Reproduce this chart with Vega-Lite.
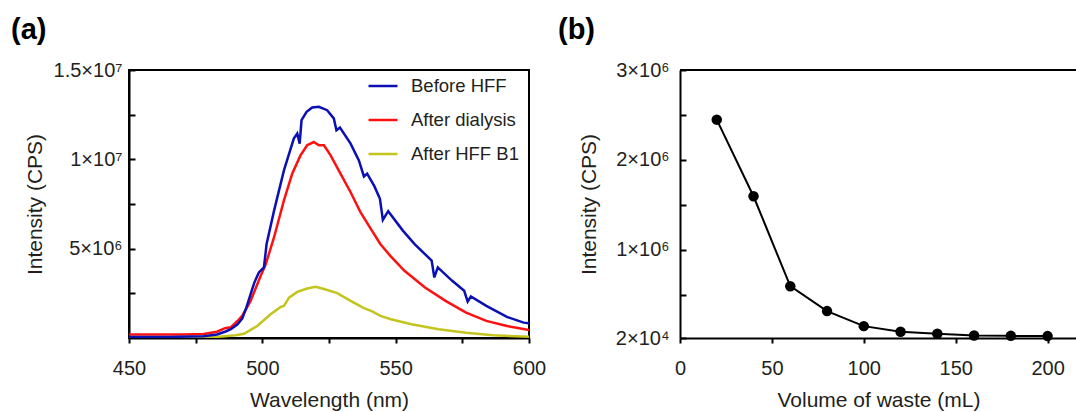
{
  "$schema": "https://vega.github.io/schema/vega-lite/v6.json",
  "background": "white",
  "padding": {"left": 10, "top": 15, "right": 0, "bottom": 0},
  "autosize": {"type": "pad"},
  "bounds": "flush",
  "spacing": 151,
  "config": {
    "font": "Liberation Sans",
    "axis": {
      "labelFont": "Liberation Sans",
      "titleFont": "Liberation Sans",
      "labelColor": "#231f20",
      "titleColor": "#231f20",
      "titleFontWeight": "normal",
      "labelFontSize": 20,
      "titleFontSize": 21,
      "domainColor": "black",
      "domainWidth": 2,
      "tickColor": "black",
      "tickWidth": 2,
      "grid": false,
      "labelFlush": false,
      "labelOverlap": false
    },
    "title": {
      "font": "Liberation Sans",
      "fontSize": 29,
      "fontWeight": "bold",
      "color": "black",
      "anchor": "start",
      "frame": "group",
      "baseline": "alphabetic",
      "offset": 15
    }
  },
  "hconcat": [
    {
      "width": 400,
      "height": 268,
      "title": {"text": "(a)", "dx": -118},
      "view": {"stroke": "black", "strokeWidth": 2},
      "data": {
        "values": [
          {"s": "After HFF B1", "w": 450, "i": 10000},
          {"s": "After HFF B1", "w": 470, "i": 10000},
          {"s": "After HFF B1", "w": 476, "i": 20000},
          {"s": "After HFF B1", "w": 482, "i": 50000},
          {"s": "After HFF B1", "w": 486, "i": 100000},
          {"s": "After HFF B1", "w": 490, "i": 150000},
          {"s": "After HFF B1", "w": 493.1, "i": 240000},
          {"s": "After HFF B1", "w": 498.1, "i": 670000},
          {"s": "After HFF B1", "w": 503.1, "i": 1330000},
          {"s": "After HFF B1", "w": 506.9, "i": 1740000},
          {"s": "After HFF B1", "w": 508.1, "i": 1800000},
          {"s": "After HFF B1", "w": 510, "i": 2260000},
          {"s": "After HFF B1", "w": 513.1, "i": 2580000},
          {"s": "After HFF B1", "w": 516.8, "i": 2770000},
          {"s": "After HFF B1", "w": 520, "i": 2870000},
          {"s": "After HFF B1", "w": 523.1, "i": 2740000},
          {"s": "After HFF B1", "w": 528.1, "i": 2510000},
          {"s": "After HFF B1", "w": 533.1, "i": 2080000},
          {"s": "After HFF B1", "w": 538.1, "i": 1670000},
          {"s": "After HFF B1", "w": 541, "i": 1500000},
          {"s": "After HFF B1", "w": 544.3, "i": 1240000},
          {"s": "After HFF B1", "w": 548.2, "i": 1050000},
          {"s": "After HFF B1", "w": 555.9, "i": 770000},
          {"s": "After HFF B1", "w": 566.1, "i": 490000},
          {"s": "After HFF B1", "w": 576.4, "i": 300000},
          {"s": "After HFF B1", "w": 586.6, "i": 150000},
          {"s": "After HFF B1", "w": 600, "i": 70000},
          {"s": "After dialysis", "w": 450, "i": 200000},
          {"s": "After dialysis", "w": 470, "i": 200000},
          {"s": "After dialysis", "w": 478, "i": 230000},
          {"s": "After dialysis", "w": 483, "i": 350000},
          {"s": "After dialysis", "w": 486, "i": 550000},
          {"s": "After dialysis", "w": 488.2, "i": 600000},
          {"s": "After dialysis", "w": 490.7, "i": 950000},
          {"s": "After dialysis", "w": 492.5, "i": 1250000},
          {"s": "After dialysis", "w": 495.6, "i": 2080000},
          {"s": "After dialysis", "w": 499.4, "i": 3480000},
          {"s": "After dialysis", "w": 501.3, "i": 4140000},
          {"s": "After dialysis", "w": 504.4, "i": 5640000},
          {"s": "After dialysis", "w": 508.1, "i": 7700000},
          {"s": "After dialysis", "w": 511.2, "i": 9200000},
          {"s": "After dialysis", "w": 514.3, "i": 10220000},
          {"s": "After dialysis", "w": 516.8, "i": 10790000},
          {"s": "After dialysis", "w": 519.3, "i": 10970000},
          {"s": "After dialysis", "w": 521.2, "i": 10790000},
          {"s": "After dialysis", "w": 523.1, "i": 10790000},
          {"s": "After dialysis", "w": 525.6, "i": 10220000},
          {"s": "After dialysis", "w": 529.3, "i": 9200000},
          {"s": "After dialysis", "w": 533.1, "i": 8160000},
          {"s": "After dialysis", "w": 536.8, "i": 7040000},
          {"s": "After dialysis", "w": 540.5, "i": 6150000},
          {"s": "After dialysis", "w": 544.3, "i": 5250000},
          {"s": "After dialysis", "w": 548, "i": 4600000},
          {"s": "After dialysis", "w": 553.3, "i": 3760000},
          {"s": "After dialysis", "w": 561, "i": 2830000},
          {"s": "After dialysis", "w": 568.7, "i": 2080000},
          {"s": "After dialysis", "w": 576.4, "i": 1420000},
          {"s": "After dialysis", "w": 584, "i": 960000},
          {"s": "After dialysis", "w": 591.7, "i": 670000},
          {"s": "After dialysis", "w": 600, "i": 450000},
          {"s": "Before HFF", "w": 450, "i": 60000},
          {"s": "Before HFF", "w": 465, "i": 60000},
          {"s": "Before HFF", "w": 478, "i": 100000},
          {"s": "Before HFF", "w": 483, "i": 200000},
          {"s": "Before HFF", "w": 486, "i": 350000},
          {"s": "Before HFF", "w": 488.2, "i": 490000},
          {"s": "Before HFF", "w": 490.7, "i": 770000},
          {"s": "Before HFF", "w": 492.5, "i": 1100000},
          {"s": "Before HFF", "w": 494, "i": 1700000},
          {"s": "Before HFF", "w": 495.6, "i": 2450000},
          {"s": "Before HFF", "w": 497, "i": 3100000},
          {"s": "Before HFF", "w": 498.7, "i": 3670000},
          {"s": "Before HFF", "w": 500.6, "i": 3950000},
          {"s": "Before HFF", "w": 501.6, "i": 5260000},
          {"s": "Before HFF", "w": 504.4, "i": 7130000},
          {"s": "Before HFF", "w": 508.1, "i": 9380000},
          {"s": "Before HFF", "w": 511.8, "i": 11160000},
          {"s": "Before HFF", "w": 513.1, "i": 11440000},
          {"s": "Before HFF", "w": 514, "i": 10880000},
          {"s": "Before HFF", "w": 514.7, "i": 12190000},
          {"s": "Before HFF", "w": 516.6, "i": 12660000},
          {"s": "Before HFF", "w": 518.7, "i": 12900000},
          {"s": "Before HFF", "w": 521.2, "i": 12940000},
          {"s": "Before HFF", "w": 524.3, "i": 12750000},
          {"s": "Before HFF", "w": 526.8, "i": 12290000},
          {"s": "Before HFF", "w": 527.8, "i": 11630000},
          {"s": "Before HFF", "w": 529.1, "i": 11780000},
          {"s": "Before HFF", "w": 533.1, "i": 10880000},
          {"s": "Before HFF", "w": 536.2, "i": 9940000},
          {"s": "Before HFF", "w": 538.1, "i": 9040000},
          {"s": "Before HFF", "w": 539.3, "i": 9200000},
          {"s": "Before HFF", "w": 542, "i": 8500000},
          {"s": "Before HFF", "w": 544.1, "i": 7790000},
          {"s": "Before HFF", "w": 545.2, "i": 6610000},
          {"s": "Before HFF", "w": 547.2, "i": 7100000},
          {"s": "Before HFF", "w": 552.7, "i": 6010000},
          {"s": "Before HFF", "w": 557.1, "i": 5260000},
          {"s": "Before HFF", "w": 563.5, "i": 4330000},
          {"s": "Before HFF", "w": 564.5, "i": 3390000},
          {"s": "Before HFF", "w": 565.8, "i": 3950000},
          {"s": "Before HFF", "w": 571.2, "i": 3200000},
          {"s": "Before HFF", "w": 575.7, "i": 2640000},
          {"s": "Before HFF", "w": 577, "i": 2040000},
          {"s": "Before HFF", "w": 578.2, "i": 2320000},
          {"s": "Before HFF", "w": 584, "i": 1800000},
          {"s": "Before HFF", "w": 591.7, "i": 1180000},
          {"s": "Before HFF", "w": 598, "i": 860000},
          {"s": "Before HFF", "w": 600, "i": 820000}
        ]
      },
      "mark": {"type": "line", "strokeWidth": 2.5, "clip": true},
      "encoding": {
        "x": {
          "field": "w",
          "type": "quantitative",
          "scale": {"domain": [450, 600], "nice": false, "zero": false},
          "axis": {
            "title": "Wavelength (nm)",
            "values": [450, 475, 500, 525, 550, 575, 600],
            "labelExpr": "datum.value % 50 == 0 ? datum.label : ''",
            "tickSize": 5,
            "labelPadding": 15,
            "titlePadding": 11
          }
        },
        "y": {
          "field": "i",
          "type": "quantitative",
          "scale": {"domain": [0, 15000000], "nice": false},
          "axis": {
            "title": "Intensity (CPS)",
            "values": [2500000, 5000000, 7500000, 10000000, 12500000, 15000000],
            "labelExpr": "datum.value == 5000000 ? '5×10⁶' : datum.value == 10000000 ? '1×10⁷' : datum.value == 15000000 ? '1.5×10⁷' : ''",
            "tickSize": -6,
            "labelPadding": 13,
            "titlePadding": 8
          }
        },
        "color": {
          "field": "s",
          "type": "nominal",
          "scale": {
            "domain": ["Before HFF", "After dialysis", "After HFF B1"],
            "range": ["#0a10b4", "#ff1010", "#c4c41e"]
          },
          "legend": {
            "orient": "none",
            "legendX": 238,
            "legendY": 0,
            "title": null,
            "symbolType": "stroke",
            "symbolStrokeWidth": 2.5,
            "symbolSize": 841,
            "labelFont": "Liberation Sans",
            "labelFontSize": 18.5,
            "labelColor": "#231f20",
            "labelOffset": 12,
            "rowPadding": 8,
            "padding": 0
          }
        }
      }
    },
    {
      "width": 397,
      "height": 268,
      "title": {"text": "(b)", "dx": -122},
      "view": {"stroke": null},
      "data": {
        "values": [
          {"v": 20, "i": 2448000},
          {"v": 40, "i": 1596000},
          {"v": 60, "i": 596000},
          {"v": 80, "i": 319000},
          {"v": 100, "i": 152000},
          {"v": 120, "i": 89000},
          {"v": 140, "i": 67000},
          {"v": 160, "i": 48000},
          {"v": 180, "i": 44000},
          {"v": 200, "i": 41000}
        ]
      },
      "layer": [
        {
          "mark": {"type": "line", "color": "black", "strokeWidth": 2},
          "encoding": {
            "x": {
              "field": "v",
              "type": "quantitative",
              "scale": {"domain": [0, 216], "nice": false},
              "axis": {
                "title": "Volume of waste (mL)",
                "values": [0, 50, 100, 150, 200],
                "tickSize": 5,
                "labelPadding": 15,
                "titlePadding": 11
              }
            },
            "y": {
              "field": "i",
              "type": "quantitative",
              "scale": {"domain": [20000, 3000000], "nice": false, "zero": false},
              "axis": {
                "title": "Intensity (CPS)",
                "values": [20000, 500000, 1000000, 1500000, 2000000, 2500000, 3000000],
                "labelExpr": "datum.value == 20000 ? '2×10⁴' : datum.value == 1000000 ? '1×10⁶' : datum.value == 2000000 ? '2×10⁶' : datum.value == 3000000 ? '3×10⁶' : ''",
                "tickSize": -6,
                "labelPadding": 17,
                "titlePadding": 16
              }
            }
          }
        },
        {
          "mark": {"type": "point", "filled": true, "color": "black", "size": 110, "opacity": 1},
          "encoding": {
            "x": {"field": "v", "type": "quantitative"},
            "y": {"field": "i", "type": "quantitative"}
          }
        },
        {
          "mark": {"type": "rule", "color": "black", "strokeWidth": 2},
          "encoding": {
            "y": {
              "datum": 3000000,
              "type": "quantitative",
              "axis": {
                "title": "Intensity (CPS)",
                "values": [20000, 500000, 1000000, 1500000, 2000000, 2500000, 3000000],
                "labelExpr": "datum.value == 20000 ? '2×10⁴' : datum.value == 1000000 ? '1×10⁶' : datum.value == 2000000 ? '2×10⁶' : datum.value == 3000000 ? '3×10⁶' : ''",
                "tickSize": -6,
                "labelPadding": 17,
                "titlePadding": 16
              }
            }
          }
        }
      ]
    }
  ]
}
